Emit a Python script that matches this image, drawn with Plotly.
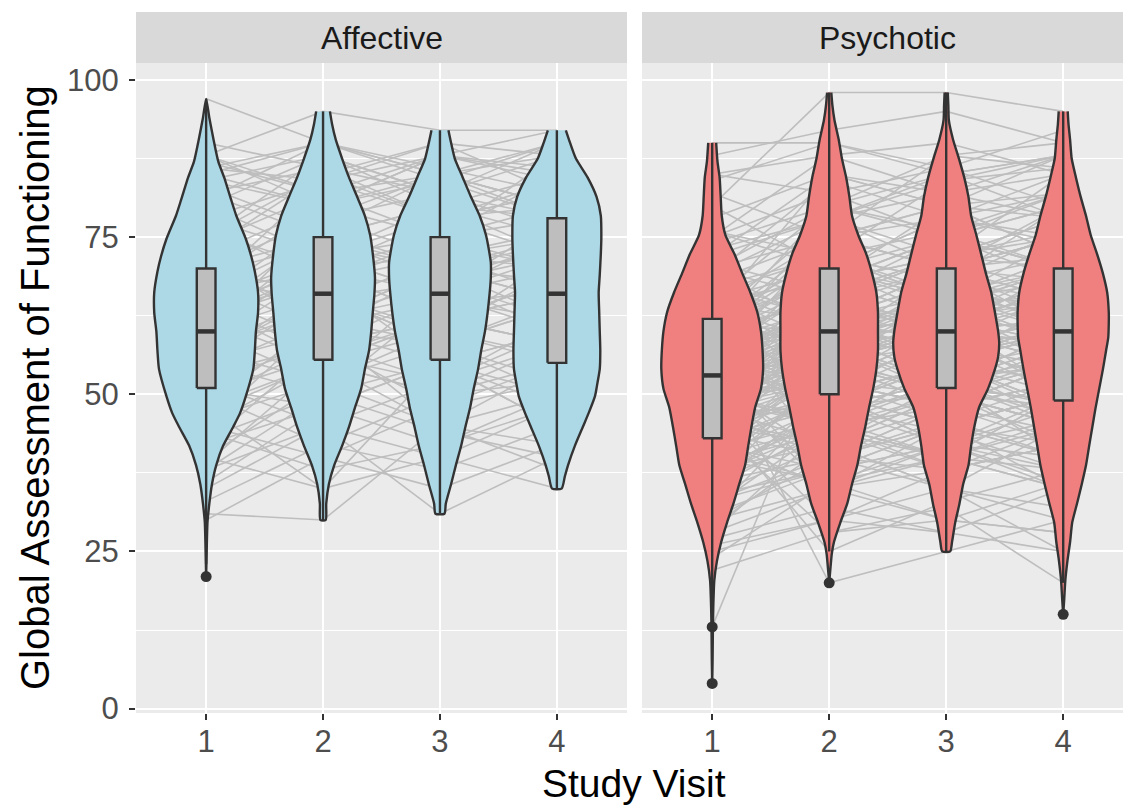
import plotly.graph_objects as go

# ---------------- data ----------------
visits = [1, 2, 3, 4]
visit_labels = ["1", "2", "3", "4"]
groups = ["Affective", "Psychotic"]
y_ticks = [0, 25, 50, 75, 100]

# GAF score of each subject at visits 1..4 (None = missing)
aff_subjects = [
    [97, 90, 85, 88], [88, 95, 92, 92], [21, None, None, None], [31, 30, 45, 50],
    [62, 70, 66, 75], [55, 60, 58, 65], [70, 75, 80, 78], [45, 55, 50, 52],
    [60, 66, 70, 68], [51, 48, 55, 60], [85, 80, 88, 85], [65, 72, 75, 80],
    [40, 52, 45, 55], [58, 62, 66, 60], [75, 85, 78, 82], [50, 56, 62, 58],
    [68, 65, 60, 70], [35, 45, 31, 40], [62, 68, 72, 75], [48, 35, 55, 45],
    [80, 88, 82, 90], [55, 50, 65, 62], [60, 75, 70, 72], [72, 60, 55, 48],
    [42, 58, 62, 66], [66, 70, 75, 78], [52, 45, 40, 35], [88, 82, 75, 85],
    [58, 65, 68, 62], [64, 55, 50, 58], [45, 62, 70, 65], [70, 78, 85, 80],
    [56, 66, 60, 55], [38, 50, 55, 60], [62, 72, 66, 70], [53, 58, 48, 52],
    [76, 70, 72, 76], [60, 52, 58, 50], [68, 80, 75, 88], [47, 55, 62, 58],
    [82, 75, 68, 72], [57, 64, 72, 70], [63, 68, 55, 45], [50, 42, 50, 55],
    [73, 85, 90, 82], [59, 61, 65, 66], [66, 58, 62, 68], [44, 38, 42, 48],
    [78, 72, 80, 75], [54, 66, 58, 64], [61, 70, 78, 72], [69, 74, 70, 65],
    [30, 40, 35, 42], [86, 90, 85, 78], [48, 55, 45, 38],
    [84, 88, 80, 85], [86, 84, 90, 88], [82, 86, 78, 80], [88, 80, 84, 90],
    [85, 90, 86, 82], [78, 84, 88, 86], [83, 76, 70, 75], [87, 82, 85, 80],
    [80, 72, 78, 84], [75, 88, 82, 78], [72, 80, 85, 90], [65, 78, 82, 76],
    [58, 70, 62, 68], [62, 55, 60, 72], [55, 68, 75, 70], [48, 62, 58, 52],
    [42, 48, 55, 50], [38, 45, 52, 58], [50, 60, 45, 42], [45, 40, 48, 55],
    [68, 60, 70, 62], [70, 66, 58, 64], [60, 78, 72, 66], [57, 52, 68, 74],
    [64, 70, 62, 58], [52, 58, 66, 72], [40, 35, 40, 48], [33, 42, 38, 45],
    [77, 68, 74, 70], [66, 75, 80, 72],
    [90, 86, 82, 88], [84, 80, 88, 92], [81, 90, 84, 78], [74, 82, 88, 84],
    [67, 84, 78, 82], [63, 76, 85, 80], [59, 72, 66, 78], [54, 62, 70, 74],
    [49, 58, 52, 62], [46, 52, 60, 56], [43, 50, 44, 40], [39, 55, 62, 66],
    [36, 48, 42, 50], [71, 62, 68, 60], [65, 56, 52, 60],
]
psy_subjects = [
    [90, 90, 85, 88], [80, 98, 98, 95], [4, None, None, None], [13, 58, 50, 45],
    [56, 20, 25, 30], [53, 60, 62, 58], [60, 70, 75, 70], [42, 50, 55, 48],
    [55, 65, 60, 68], [35, 45, 40, 50], [62, 55, 65, 60], [48, 62, 70, 75],
    [58, 72, 68, 80], [30, 40, 45, 35], [52, 58, 52, 60], [65, 80, 85, 88],
    [43, 35, 30, 28], [70, 75, 70, 65], [50, 55, 60, 55], [38, 52, 48, 42],
    [56, 68, 72, 70], [47, 48, 55, 62], [61, 60, 58, 52], [25, 30, 35, 25],
    [54, 62, 66, 70], [72, 85, 80, 82], [40, 58, 62, 55], [57, 50, 45, 50],
    [52, 66, 60, 65], [46, 42, 50, 45], [63, 70, 78, 75], [33, 38, 42, 48],
    [55, 60, 58, 62], [59, 75, 70, 72], [44, 52, 60, 58], [68, 62, 55, 60],
    [50, 45, 52, 40], [75, 88, 82, 85], [41, 55, 51, 49], [53, 58, 64, 66],
    [28, 35, 40, 38], [60, 65, 70, 60], [49, 52, 48, 55], [66, 72, 65, 70],
    [36, 48, 55, 52], [58, 60, 60, 62], [45, 50, 42, 38], [62, 78, 72, 78],
    [54, 56, 62, 50], [22, 28, 32, 20], [51, 62, 56, 60], [64, 58, 68, 72],
    [39, 44, 50, 55], [57, 68, 62, 65], [47, 40, 38, 45], [70, 80, 88, 90],
    [52, 55, 58, 60], [43, 60, 65, 58], [60, 52, 50, 48], [34, 42, 35, 30],
    [55, 70, 66, 62], [48, 58, 60, 68], [65, 68, 75, 70], [50, 46, 52, 56],
    [42, 55, 48, 52], [58, 64, 60, 55], [76, 70, 65, 72], [31, 50, 45, 40],
    [53, 62, 70, 65], [46, 52, 58, 50], [61, 75, 80, 78], [56, 48, 55, 60],
    [40, 36, 42, 35], [67, 60, 62, 68], [52, 58, 51, 49], [44, 62, 56, 60],
    [59, 66, 72, 75], [37, 45, 55, 47], [54, 50, 60, 62], [62, 72, 68, 65],
    [49, 55, 50, 42], [27, 32, 28, 25], [57, 62, 64, 70], [45, 58, 52, 55],
    [63, 56, 60, 58], [51, 66, 75, 80], [41, 46, 40, 50], [55, 60, 55, 52],
    [69, 78, 84, 86], [48, 52, 62, 60], [50, 70, 65, 68], [85, 82, 75, 80],
    [47, 25, 33, 38], [None, None, None, 15],
    [85, 88, 90, 85], [82, 75, 88, 86], [78, 85, 80, 88], [80, 70, 78, 82],
    [75, 82, 86, 80], [72, 78, 70, 75], [70, 65, 72, 78], [68, 75, 80, 72],
    [65, 70, 62, 68], [66, 58, 65, 75], [62, 68, 72, 65], [60, 72, 66, 60],
    [58, 62, 55, 62], [57, 52, 58, 66], [56, 64, 70, 62], [55, 48, 52, 58],
    [54, 60, 64, 55], [53, 66, 58, 52], [52, 50, 55, 48], [51, 58, 62, 66],
    [50, 56, 50, 45], [50, 62, 68, 60], [49, 45, 48, 52], [48, 55, 60, 58],
    [47, 52, 46, 40], [46, 60, 55, 50], [45, 42, 48, 55], [44, 50, 58, 62],
    [43, 48, 42, 46], [42, 38, 45, 50], [41, 50, 55, 45], [40, 45, 38, 42],
    [39, 52, 48, 55], [38, 42, 50, 45], [37, 48, 44, 38], [36, 40, 46, 52],
    [35, 50, 42, 40], [34, 38, 45, 42], [32, 45, 40, 35], [30, 35, 38, 42],
    [29, 42, 35, 32], [26, 30, 28, 35], [24, 36, 30, 28], [60, 80, 75, 70],
    [63, 85, 82, 78], [58, 45, 50, 55], [55, 35, 45, 50], [52, 40, 35, 45],
    [48, 30, 38, 42], [45, 28, 30, 36], [62, 50, 45, 40], [65, 55, 60, 50],
    [70, 60, 55, 65], [55, 75, 78, 85], [50, 68, 75, 82], [47, 58, 70, 75],
    [44, 66, 60, 68], [58, 55, 48, 44], [61, 64, 58, 54], [54, 52, 60, 70],
    [53, 56, 65, 72], [57, 60, 52, 45], [49, 60, 66, 64], [46, 55, 62, 70],
    [40, 48, 52, 58], [59, 70, 64, 58], [64, 62, 70, 68], [67, 72, 76, 82],
    [71, 66, 60, 58], [73, 78, 82, 88],
    [88, 92, 95, 90], [84, 90, 86, 92], [76, 72, 84, 88], [74, 80, 76, 70],
    [69, 84, 78, 74], [67, 62, 68, 76], [64, 75, 70, 80], [61, 58, 66, 64],
    [59, 68, 75, 68], [58, 50, 60, 66], [56, 62, 54, 58], [55, 66, 72, 76],
    [53, 48, 50, 56], [52, 62, 58, 52], [51, 44, 40, 46], [50, 58, 64, 70],
    [49, 64, 60, 55], [48, 42, 52, 60], [47, 55, 50, 48], [46, 48, 56, 64],
    [45, 62, 58, 52], [44, 40, 45, 50], [43, 54, 62, 58], [42, 60, 52, 46],
    [41, 36, 40, 45], [40, 55, 62, 66], [38, 46, 52, 48], [36, 44, 38, 42],
    [35, 55, 50, 58], [33, 40, 48, 55], [31, 38, 42, 36], [28, 45, 55, 60],
    [57, 78, 85, 78], [54, 72, 65, 58], [60, 45, 40, 35], [62, 40, 48, 52],
    [65, 50, 55, 62], [48, 68, 80, 72], [52, 35, 42, 50], [46, 65, 72, 85],
]

# violin density profiles (score level, relative half-width), top to bottom
aff_v1_lvl = [97, 94, 90.5, 87, 84.5, 81, 78.4, 74.7, 72, 69.5, 66.2, 63, 60, 57, 54, 49.7, 47, 44.8, 41.8, 38.7, 35.7, 32.6, 29.6, 25, 21]
aff_v1_den = [0.0, 0.06, 0.14, 0.23, 0.34, 0.47, 0.57, 0.75, 0.85, 0.92, 0.98, 0.98, 0.94, 0.92, 0.89, 0.75, 0.64, 0.51, 0.32, 0.19, 0.11, 0.06, 0.025, 0.01, 0.0]
aff_v2_lvl = [95, 93, 90.5, 87.5, 84.5, 81.5, 78.4, 75.3, 72.3, 68.6, 66, 63.1, 60, 57, 54, 50.9, 47.8, 44.8, 41.8, 38.7, 35.7, 32.6, 30]
aff_v2_den = [0.13, 0.17, 0.24, 0.36, 0.49, 0.64, 0.79, 0.89, 0.94, 0.98, 0.97, 0.94, 0.91, 0.87, 0.79, 0.72, 0.6, 0.49, 0.36, 0.21, 0.11, 0.06, 0.05]
aff_v3_lvl = [92, 90, 87.5, 84.5, 81.5, 78.4, 75.3, 71, 68.5, 66.2, 63, 60, 57, 54, 51, 47.9, 44.8, 41.8, 38.7, 35.7, 32.6, 31]
aff_v3_den = [0.16, 0.21, 0.28, 0.43, 0.58, 0.75, 0.87, 0.96, 0.96, 0.94, 0.9, 0.85, 0.78, 0.72, 0.64, 0.57, 0.48, 0.4, 0.3, 0.21, 0.11, 0.085]
aff_v4_lvl = [92, 90, 87.5, 84.5, 81.4, 78.4, 75, 72.3, 69, 66.2, 63, 60, 57, 54, 51.5, 49.7, 47, 44.8, 41.8, 38.7, 36.9, 35]
aff_v4_den = [0.17, 0.25, 0.36, 0.58, 0.75, 0.83, 0.84, 0.83, 0.81, 0.79, 0.8, 0.81, 0.82, 0.81, 0.76, 0.72, 0.6, 0.49, 0.34, 0.21, 0.15, 0.09]

psy_v1_lvl = [90, 87, 84.5, 81.5, 78.4, 75.3, 72.3, 69.2, 66.2, 63.1, 60, 57, 54, 50.9, 47.9, 44.8, 41.8, 38.7, 35.7, 32.6, 29.6, 26.5, 23.5, 20.4, 16, 12, 8, 4]
psy_v1_den = [0.075, 0.1, 0.14, 0.16, 0.18, 0.25, 0.42, 0.57, 0.72, 0.85, 0.92, 0.95, 0.96, 0.92, 0.81, 0.74, 0.68, 0.62, 0.51, 0.4, 0.28, 0.17, 0.09, 0.04, 0.02, 0.012, 0.008, 0.0]
psy_v2_lvl = [98, 96, 93.6, 90.5, 87.5, 84.5, 81.5, 78.4, 75.3, 72.3, 69.2, 66.2, 63, 60, 57, 54, 50.9, 47.8, 44.8, 41.8, 38.7, 35.7, 32.6, 29.6, 26.5, 24.7, 22, 20]
psy_v2_den = [0.04, 0.06, 0.1, 0.18, 0.24, 0.32, 0.38, 0.43, 0.55, 0.7, 0.81, 0.89, 0.92, 0.92, 0.92, 0.89, 0.83, 0.75, 0.68, 0.6, 0.53, 0.43, 0.34, 0.21, 0.09, 0.05, 0.02, 0.0]
psy_v3_lvl = [98, 96, 93.6, 90.5, 87.5, 84.5, 81.4, 78.4, 75.3, 72.3, 69.2, 66.2, 63, 60, 58.2, 56, 54, 50.9, 47.9, 44.8, 41.8, 38.7, 35.7, 32.6, 29.6, 26.5, 25]
psy_v3_den = [0.03, 0.04, 0.05, 0.13, 0.24, 0.34, 0.42, 0.47, 0.57, 0.66, 0.75, 0.85, 0.92, 0.98, 1.0, 0.98, 0.92, 0.79, 0.62, 0.53, 0.47, 0.42, 0.32, 0.25, 0.17, 0.11, 0.075]
psy_v4_lvl = [95, 93, 90.5, 87.5, 84.5, 81.4, 78.4, 75.3, 72.3, 69.2, 66.2, 63, 61.3, 59, 57, 54, 50.9, 47.8, 44.8, 41.8, 38.7, 35.7, 32.6, 29.6, 26.5, 23.5, 20.4, 17.5, 15]
psy_v4_den = [0.085, 0.1, 0.13, 0.16, 0.24, 0.33, 0.43, 0.52, 0.64, 0.75, 0.83, 0.86, 0.86, 0.85, 0.81, 0.75, 0.68, 0.61, 0.55, 0.49, 0.43, 0.35, 0.26, 0.17, 0.13, 0.08, 0.04, 0.02, 0.0]

# boxplot statistics per visit
aff_q1 = [51, 55.5, 55.5, 55]
aff_med = [60, 66, 66, 66]
aff_q3 = [70, 75, 75, 78]
aff_lo = [23, 30, 31, 35]
aff_hi = [97, 95, 92, 92]
aff_out_x = [1]
aff_out_y = [21]

psy_q1 = [43, 50, 51, 49]
psy_med = [53, 60, 60, 60]
psy_q3 = [62, 70, 70, 70]
psy_lo = [16, 25, 25, 20]
psy_hi = [90, 98, 98, 95]
psy_out_x = [1, 1, 2, 4]
psy_out_y = [13, 4, 20, 15]

# ---------------- styling ----------------
FONT = "Liberation Sans, Arial, Helvetica, sans-serif"
VIOLIN_FILL = {"Affective": "#ADD8E6", "Psychotic": "#F08080"}
OUTLINE = "#333333"
LINE_GREY = "rgb(190,190,190)"
HALF_SCALE = 0.453   # relative density 1 -> half width (x units)
BOX_W = 0.16

panels = {
    "Affective": dict(
        subjects=aff_subjects,
        violins=[(aff_v1_lvl, aff_v1_den), (aff_v2_lvl, aff_v2_den),
                 (aff_v3_lvl, aff_v3_den), (aff_v4_lvl, aff_v4_den)],
        q1=aff_q1, med=aff_med, q3=aff_q3, lo=aff_lo, hi=aff_hi,
        out_x=aff_out_x, out_y=aff_out_y, xa="x", ya="y"),
    "Psychotic": dict(
        subjects=psy_subjects,
        violins=[(psy_v1_lvl, psy_v1_den), (psy_v2_lvl, psy_v2_den),
                 (psy_v3_lvl, psy_v3_den), (psy_v4_lvl, psy_v4_den)],
        q1=psy_q1, med=psy_med, q3=psy_q3, lo=psy_lo, hi=psy_hi,
        out_x=psy_out_x, out_y=psy_out_y, xa="x2", ya="y2"),
}

fig = go.Figure()

for g in groups:
    p = panels[g]
    ax = dict(xaxis=p["xa"], yaxis=p["ya"], hoverinfo="skip", showlegend=False)
    # spaghetti lines (one per subject)
    lx, ly = [], []
    for s in p["subjects"]:
        lx += visits + [None]
        ly += list(s) + [None]
    fig.add_trace(go.Scatter(x=lx, y=ly, mode="lines", connectgaps=False,
                             line=dict(color=LINE_GREY, width=1.6), **ax))
    # violins
    for v, (lvl, den) in zip(visits, p["violins"]):
        xs = [v + d * HALF_SCALE for d in den] + [v - d * HALF_SCALE for d in reversed(den)]
        ys = list(lvl) + list(reversed(lvl))
        fig.add_trace(go.Scatter(x=xs, y=ys, mode="lines", fill="toself",
                                 fillcolor=VIOLIN_FILL[g],
                                 line=dict(color=OUTLINE, width=2.4, shape="spline", smoothing=0.6),
                                 **ax))
    # whiskers
    wx, wy = [], []
    for v, lo, q1, q3, hi in zip(visits, p["lo"], p["q1"], p["q3"], p["hi"]):
        wx += [v, v, None, v, v, None]
        wy += [q3, hi, None, q1, lo, None]
    fig.add_trace(go.Scatter(x=wx, y=wy, mode="lines",
                             line=dict(color=OUTLINE, width=2.4), **ax))
    # boxes
    for v, q1, q3 in zip(visits, p["q1"], p["q3"]):
        fig.add_trace(go.Scatter(
            x=[v - BOX_W / 2, v + BOX_W / 2, v + BOX_W / 2, v - BOX_W / 2, v - BOX_W / 2],
            y=[q1, q1, q3, q3, q1], mode="lines", fill="toself", fillcolor="#BEBEBE",
            line=dict(color=OUTLINE, width=2.4), **ax))
    # thick median bars
    mx, my = [], []
    for v, m in zip(visits, p["med"]):
        mx += [v - BOX_W / 2, v + BOX_W / 2, None]
        my += [m, m, None]
    fig.add_trace(go.Scatter(x=mx, y=my, mode="lines",
                             line=dict(color=OUTLINE, width=4.5), **ax))
    # outliers
    fig.add_trace(go.Scatter(x=p["out_x"], y=p["out_y"], mode="markers",
                             marker=dict(color=OUTLINE, size=11), **ax))

# ---------------- layout ----------------
W, H = 1123, 805
ML, MR, MT, MB = 136, 0, 12, 92
plot_w = W - ML - MR
plot_h = H - MT - MB
panel_top_px = 63
panel_top = (H - MB - panel_top_px) / plot_h
left_end = (627 - ML) / plot_w
right_start = (642 - ML) / plot_w
px_per_unit = 117.0

xcommon = dict(tickvals=visits, ticktext=visit_labels, showgrid=True, gridcolor="white",
               gridwidth=2.4, zeroline=False, ticks="outside", ticklen=6, tickwidth=2,
               tickcolor=OUTLINE, ticklabelstandoff=-5,
               tickfont=dict(family=FONT, size=31, color="#4D4D4D"),
               showline=False, fixedrange=True)
ycommon = dict(range=[-0.7, 102.7], tickvals=y_ticks, showgrid=True, gridcolor="white",
               gridwidth=2.4, zeroline=False, showline=False,
               minor=dict(tickvals=[12.5, 37.5, 62.5, 87.5], showgrid=True,
                          gridcolor="white", gridwidth=1.2, ticks=""),
               domain=[0, panel_top], fixedrange=True)

fig.update_layout(
    width=W, height=H,
    margin=dict(l=ML, r=MR, t=MT, b=MB, pad=0),
    paper_bgcolor="white", plot_bgcolor="#EBEBEB",
    showlegend=False,
    font=dict(family=FONT),
    xaxis=dict(domain=[0, left_end], range=[0.4, 4.6], anchor="y", **xcommon),
    xaxis2=dict(domain=[right_start, 1],
                range=[0.4, 0.4 + (W - 642) / px_per_unit], anchor="y2", **xcommon),
    yaxis=dict(anchor="x", ticks="outside", ticklen=6, tickwidth=2, tickcolor=OUTLINE,
               ticklabelstandoff=4,
               tickfont=dict(family=FONT, size=31, color="#4D4D4D"), **ycommon),
    yaxis2=dict(anchor="x2", matches="y", showticklabels=False, ticks="", **ycommon),
)

# facet strips
shapes = []
annotations = []
full_panel_w = 491 / plot_w
for x0, x1, g in [(0, left_end, "Affective"), (right_start, 1, "Psychotic")]:
    shapes.append(dict(type="rect", xref="paper", yref="paper", x0=x0, x1=x1,
                       y0=panel_top, y1=1, fillcolor="#D9D9D9", line=dict(width=0),
                       layer="below"))
    annotations.append(dict(text=g, xref="paper", yref="paper", x=x0 + full_panel_w / 2,
                            y=(panel_top + 1) / 2, showarrow=False, xanchor="center",
                            yanchor="middle", font=dict(family=FONT, size=32, color="#1A1A1A")))

# axis titles
annotations.append(dict(text="Study Visit", xref="paper", yref="paper",
                        x=(634 - ML) / plot_w, y=-(783 - (H - MB)) / plot_h,
                        showarrow=False, xanchor="center", yanchor="middle",
                        font=dict(family=FONT, size=39, color="black")))
annotations.append(dict(text="Global Assessment of Functioning", xref="paper", yref="paper",
                        x=(35 - ML) / plot_w, y=((H - MB) - 388) / plot_h, textangle=-90,
                        showarrow=False, xanchor="center", yanchor="middle",
                        font=dict(family=FONT, size=40, color="black")))

fig.update_layout(shapes=shapes, annotations=annotations)

fig.write_html("out.html", config={"displayModeBar": False},
               post_script="document.body.style.margin='0';document.body.style.overflow='hidden';")
